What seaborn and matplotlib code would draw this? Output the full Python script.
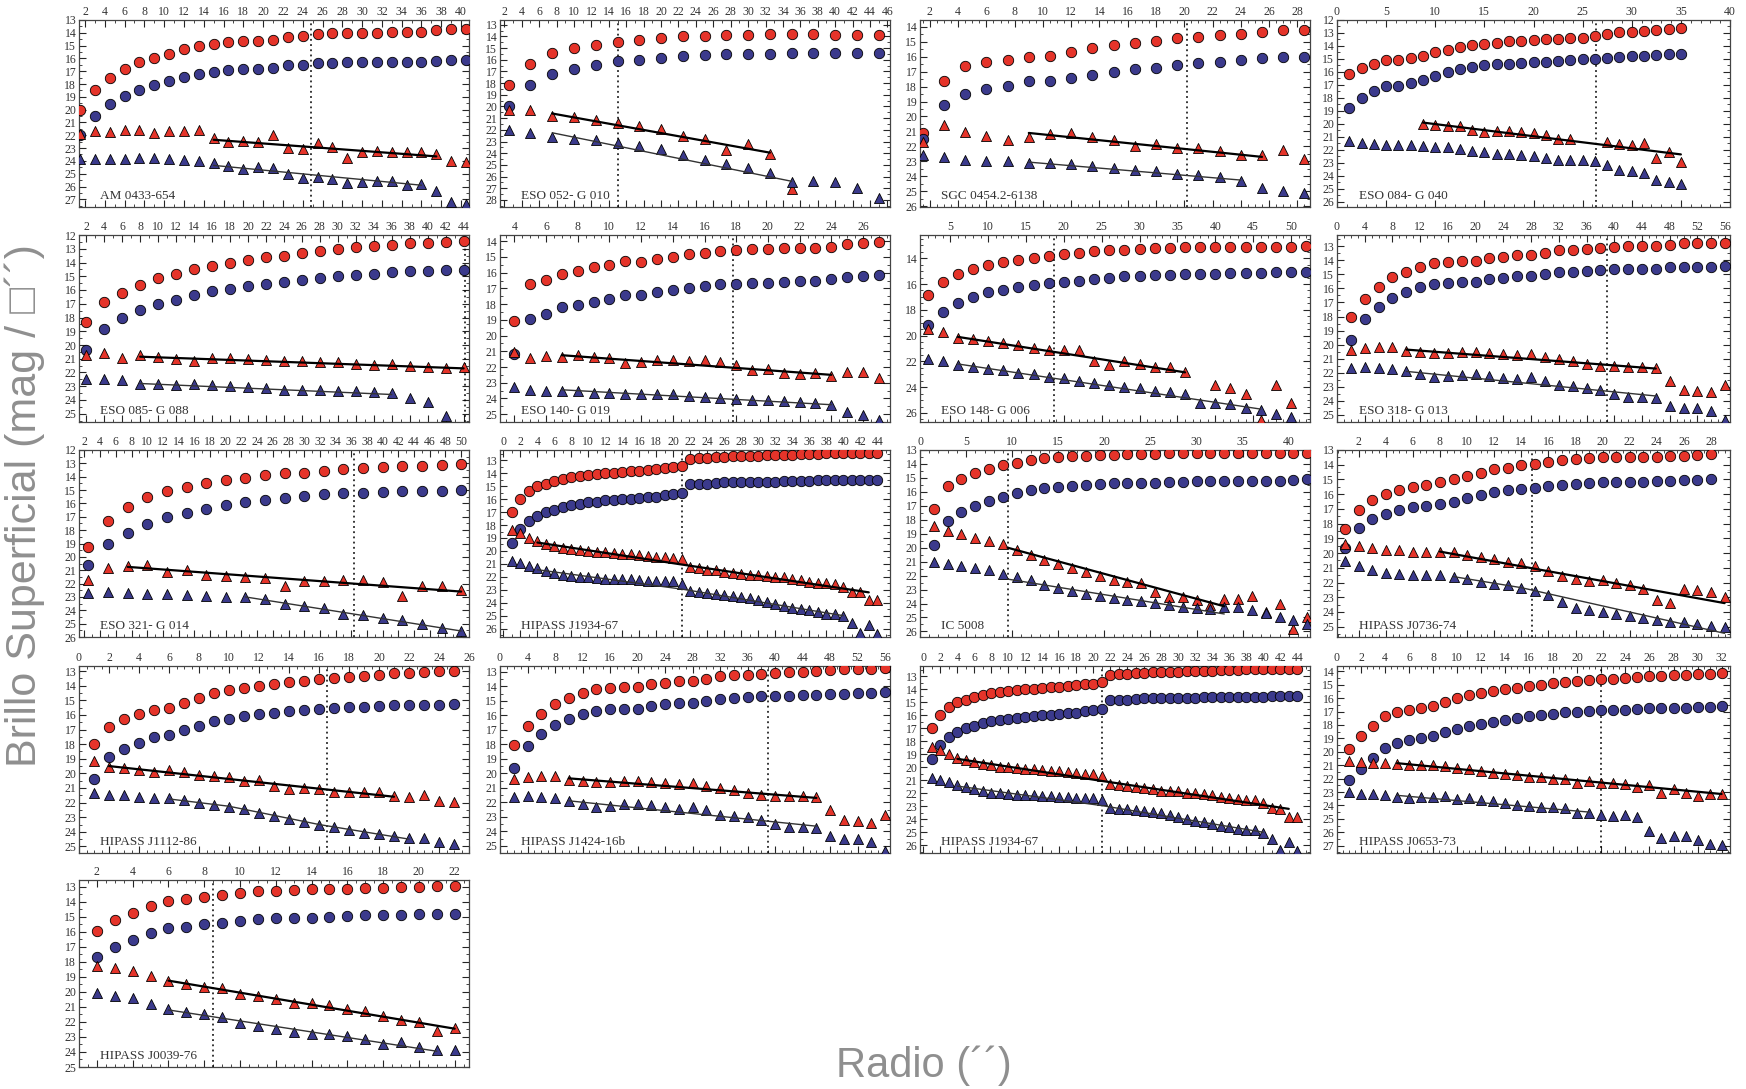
import numpy as np
import pandas as pd
import matplotlib
matplotlib.use("Agg")
import matplotlib.pyplot as plt
import seaborn as sns
from matplotlib.ticker import MultipleLocator

sns.set_style("ticks")
plt.rcParams['font.family'] = ['Liberation Serif', 'DejaVu Serif']

nan = np.nan

# ---------------- DATA ----------------
names = ["AM 0433-654", "ESO 052- G 010", "SGC 0454.2-6138", "ESO 084- G 040",
         "ESO 085- G 088", "ESO 140- G 019", "ESO 148- G 006", "ESO 318- G 013",
         "ESO 321- G 014", "HIPASS J1934-67", "IC 5008", "HIPASS J0736-74",
         "HIPASS J1112-86", "HIPASS J1424-16b", "HIPASS J1934-67", "HIPASS J0653-73",
         "HIPASS J0039-76"]

# AM 0433-654
p01_x = np.arange(1, 28) * 1.5
p01_rc = [20.0, 18.5, 17.55, 16.85, 16.3, 15.95, 15.65, 15.3, 15.05, 14.85, 14.75, 14.65, 14.65, 14.55,
          14.3, 14.25, 14.1, 14.05, 14.05, 14.0, 14.0, 13.95, 13.9, 13.9, 13.75, 13.7, 13.7]
p01_bc = [22.0, 20.5, 19.55, 18.95, 18.45, 18.05, 17.75, 17.45, 17.25, 17.05, 16.9, 16.8, 16.8, 16.75,
          16.55, 16.5, 16.35, 16.35, 16.3, 16.3, 16.3, 16.25, 16.25, 16.25, 16.2, 16.15, 16.1]
p01_rt = [21.9, 21.7, 21.75, 21.55, 21.6, 21.8, 21.7, 21.7, 21.6, 22.2, 22.55, 22.45, 22.5, 22.0,
          23.0, 23.1, 22.6, 22.95, 23.8, 23.3, 23.25, 23.3, 23.3, 23.3, 23.5, 24.0, 24.05]
p01_bt = [23.85, 23.85, 23.85, 23.85, 23.75, 23.75, 23.85, 23.95, 24.0, 24.2, 24.4, 24.6, 24.45, 24.55,
          25.0, 25.3, 25.25, 25.4, 25.75, 25.65, 25.6, 25.6, 25.9, 25.8, 26.35, 27.2, 27.35]
p01_rfx, p01_rfy = [15, 37.5], [22.35, 23.65]
p01_bfx, p01_bfy = [15, 36], [24.35, 25.9]

# ESO 052-G010
p02_x = np.arange(1, 19) * 2.5
p02_rc = [18.2, 16.4, 15.45, 15.0, 14.7, 14.5, 14.3, 14.15, 14.0, 13.95, 13.85, 13.85, 13.8, 13.8, 13.8, 13.85, 13.9, 13.9]
p02_bc = [20.0, 18.2, 17.2, 16.75, 16.45, 16.15, 16.0, 15.85, 15.7, 15.6, 15.55, 15.5, 15.5, 15.45, 15.45, 15.45, 15.4, 15.4]
p02_rt = [20.3, 20.3, 20.85, 20.9, 21.15, 21.45, 21.7, 21.95, 22.5, 22.8, 23.7, 23.2, 24.1, 27.1, nan, nan, nan, nan]
p02_bt = [22.05, 22.25, 22.6, 22.75, 22.9, 23.15, 23.4, 23.65, 24.15, 24.6, 24.95, 25.3, 25.65, 26.5, 26.4, 26.5, 26.95, 27.85]
p02_rfx, p02_rfy = [7.5, 32.5], [20.6, 23.95]
p02_bfx, p02_bfy = [7.5, 35], [22.25, 26.4]

# SGC 0454.2-6138
p03_x = np.arange(1, 20) * 1.5
p03_rc = [21.1, 17.6, 16.65, 16.35, 16.2, 16.0, 15.95, 15.7, 15.4, 15.25, 15.1, 14.95, 14.75, 14.7, 14.55, 14.5, 14.35, 14.25, 14.2]
p03_bc = [21.5, 19.25, 18.5, 18.15, 17.95, 17.65, 17.6, 17.45, 17.25, 17.05, 16.85, 16.75, 16.55, 16.45, 16.35, 16.25, 16.1, 16.05, 16.0]
p03_rt = [21.7, 20.55, 21.05, 21.3, 21.55, 21.35, 21.2, 21.1, 21.35, 21.6, 21.95, 21.85, 22.1, 22.1, 22.3, 22.55, 22.6, 22.25, 22.85]
p03_bt = [22.55, 22.7, 22.9, 23.0, 23.0, 23.1, 23.1, 23.15, 23.3, 23.45, 23.55, 23.65, 23.85, 23.9, 24.05, 24.3, 24.75, 24.95, 25.1]
p03_rfx, p03_rfy = [9, 25.5], [21.1, 22.7]
p03_bfx, p03_bfy = [9, 24], [23.05, 24.25]

# ESO 084-G040
p04_x = np.arange(1, 29) * 1.25
p04_rc = [16.15, 15.7, 15.35, 15.1, 15.1, 14.95, 14.75, 14.5, 14.3, 14.05, 13.95, 13.85, 13.75, 13.65,
          13.6, 13.55, 13.5, 13.45, 13.4, 13.35, 13.2, 13.05, 12.95, 12.9, 12.85, 12.75, 12.7, 12.65]
p04_bc = [18.8, 18.0, 17.5, 17.05, 17.05, 16.85, 16.6, 16.3, 16.0, 15.75, 15.6, 15.5, 15.4, 15.35,
          15.3, 15.25, 15.2, 15.15, 15.05, 15.0, 15.0, 14.95, 14.85, 14.8, 14.75, 14.7, 14.65, 14.6]
p04_rt = [nan, nan, nan, nan, nan, nan, 20.0, 20.05, 20.15, 20.2, 20.45, 20.6, 20.55, 20.55,
          20.65, 20.7, 20.85, 21.15, 21.2, nan, nan, 21.4, 21.55, 21.6, 21.5, 22.6, 22.2, 22.9]
p04_bt = [21.35, 21.5, 21.55, 21.6, 21.6, 21.6, 21.7, 21.75, 21.8, 21.95, 22.1, 22.2, 22.3, 22.35,
          22.4, 22.5, 22.65, 22.75, 22.8, 22.8, 22.85, 23.2, 23.55, 23.6, 23.8, 24.3, 24.5, 24.65]
p04_rfx, p04_rfy = [8.75, 35], [19.9, 22.35]
p04_bfx, p04_bfy = [], []

# ESO 085-G088
p05_x = np.arange(1, 23) * 2.0
p05_rc = [18.3, 16.85, 16.2, 15.65, 15.15, 14.8, 14.5, 14.25, 14.05, 13.8, 13.6, 13.5, 13.3, 13.15, 13.0, 12.9, 12.8, 12.7, 12.6, 12.55, 12.5, 12.45]
p05_bc = [20.4, 18.8, 18.05, 17.45, 17.05, 16.7, 16.4, 16.1, 15.9, 15.7, 15.55, 15.4, 15.25, 15.15, 15.0, 14.9, 14.8, 14.7, 14.65, 14.6, 14.55, 14.55]
p05_rt = [20.75, 20.6, 20.95, 20.75, 20.85, 21.0, 21.15, 20.95, 20.95, 21.05, 21.1, 21.15, 21.15, 21.25, 21.25, 21.4, 21.45, 21.4, 21.5, 21.6, 21.65, 21.6]
p05_bt = [22.5, 22.5, 22.55, 22.85, 22.85, 22.9, 22.85, 22.9, 22.95, 23.05, 23.15, 23.25, 23.3, 23.3, 23.35, 23.35, 23.45, 23.5, 23.85, 24.15, 25.2, nan]
p05_rfx, p05_rfy = [8, 44], [20.85, 21.7]
p05_bfx, p05_bfy = [8, 36], [22.8, 23.6]

# ESO 140-G019
p06_x = np.arange(4, 28) * 1.0
p06_rc = [19.05, 16.75, 16.45, 16.1, 15.9, 15.65, 15.5, 15.25, 15.3, 15.1, 15.0, 14.8, 14.75, 14.65, 14.55, 14.5, 14.5, 14.45, 14.4, 14.4, 14.35, 14.2, 14.1, 14.05]
p06_bc = [21.2, 18.95, 18.65, 18.2, 18.05, 17.85, 17.65, 17.4, 17.4, 17.2, 17.1, 16.95, 16.85, 16.75, 16.7, 16.65, 16.65, 16.6, 16.55, 16.5, 16.4, 16.25, 16.2, 16.15]
p06_rt = [21.05, 21.4, 21.3, 21.35, 21.25, 21.35, 21.45, 21.75, 21.7, 21.55, 21.55, 21.65, 21.55, 21.7, 21.9, 22.2, 22.1, 22.4, 22.45, 22.4, 22.6, 22.3, 22.3, 22.7]
p06_bt = [23.3, 23.45, 23.5, 23.5, 23.55, 23.65, 23.65, 23.7, 23.7, 23.7, 23.7, 23.85, 23.9, 24.0, 24.05, 24.1, 24.1, 24.15, 24.25, 24.3, 24.45, 24.85, 25.05, 25.35]
p06_rfx, p06_rfy = [7, 24], [21.25, 22.5]
p06_bfx, p06_bfy = [7, 24], [23.45, 24.4]

# ESO 148-G006
p07_x = np.arange(1, 27) * 2.0
p07_rc = [16.85, 15.85, 15.2, 14.8, 14.5, 14.3, 14.1, 13.95, 13.85, 13.7, 13.6, 13.45, 13.4, 13.35, 13.25, 13.2, 13.2, 13.15, 13.15, 13.1, 13.1, 13.1, 13.1, 13.1, 13.1, 13.05]
p07_bc = [19.2, 18.15, 17.45, 17.0, 16.65, 16.45, 16.25, 16.1, 15.95, 15.85, 15.75, 15.6, 15.5, 15.4, 15.35, 15.3, 15.3, 15.25, 15.2, 15.2, 15.15, 15.15, 15.15, 15.1, 15.1, 15.05]
p07_rt = [19.5, 19.7, 20.15, 20.3, 20.4, 20.6, 20.75, 20.95, 21.15, 21.1, 21.15, 21.95, 22.25, 21.95, 22.2, 22.45, 22.4, 22.85, nan, 23.85, 24.05, 24.55, 26.55, 23.85, 25.25, nan]
p07_bt = [21.8, 22.0, 22.25, 22.4, 22.6, 22.7, 22.9, 23.0, 23.2, 23.3, 23.5, 23.7, 23.8, 24.0, 24.1, 24.3, 24.35, 24.55, 25.2, 25.2, 25.3, 25.65, 25.8, 26.1, 26.3, nan]
p07_rfx, p07_rfy = [6, 18, 36], [20.1, 21.2, 22.85]
p07_bfx, p07_bfy = [6, 46], [22.2, 25.7]

# ESO 318-G013
p08_x = np.arange(1, 29) * 2.0
p08_rc = [18.05, 16.75, 15.9, 15.2, 14.8, 14.45, 14.2, 14.1, 14.05, 14.05, 13.85, 13.75, 13.65, 13.65,
          13.5, 13.3, 13.25, 13.2, 13.15, 13.05, 13.0, 13.0, 12.95, 12.9, 12.8, 12.8, 12.8, 12.75]
p08_bc = [19.65, 18.15, 17.3, 16.65, 16.25, 15.9, 15.7, 15.6, 15.55, 15.55, 15.35, 15.25, 15.15, 15.15,
          15.0, 14.85, 14.8, 14.75, 14.7, 14.65, 14.65, 14.6, 14.6, 14.5, 14.5, 14.45, 14.45, 14.4]
p08_rt = [20.4, 20.25, 20.2, 20.2, 20.45, 20.5, 20.6, 20.6, 20.55, 20.5, 20.6, 20.65, 20.75, 20.65,
          20.85, 21.05, 21.15, 21.35, 21.5, 21.55, 21.6, 21.6, 21.65, 22.55, 23.25, 23.3, 23.4, 22.85]
p08_bt = [21.65, 21.6, 21.65, 21.7, 21.9, 22.1, 22.3, 22.25, 22.15, 22.1, 22.2, 22.35, 22.45, 22.3,
          22.55, 22.9, 22.95, 23.05, 23.2, 23.5, 23.7, 23.7, 23.8, 24.35, 24.5, 24.5, 24.75, 25.35]
p08_rfx, p08_rfy = [10, 46], [20.35, 21.7]
p08_bfx, p08_bfy = [10, 46], [21.9, 23.65]

# ESO 321-G014
p09_x = np.arange(1, 21) * 2.5
p09_rc = [19.25, 17.3, 16.25, 15.55, 15.1, 14.75, 14.45, 14.25, 14.1, 13.85, 13.75, 13.7, 13.55, 13.45, 13.35, 13.25, 13.2, 13.2, 13.1, 13.05]
p09_bc = [20.6, 19.05, 18.2, 17.55, 17.05, 16.7, 16.45, 16.15, 15.9, 15.75, 15.6, 15.45, 15.3, 15.25, 15.2, 15.15, 15.1, 15.1, 15.05, 15.0]
p09_rt = [21.7, 20.85, 20.65, 20.6, 21.15, 20.95, 21.35, 21.4, 21.5, 21.55, 22.15, 21.8, 21.8, 21.7, 21.7, 21.9, 22.9, 22.2, 22.15, 22.5]
p09_bt = [22.7, 22.65, 22.7, 22.75, 22.8, 22.85, 22.95, 23.0, 23.0, 23.15, 23.5, 23.65, 23.85, 24.25, 24.35, 24.55, 24.75, 25.0, 25.3, 25.55]
p09_rfx, p09_rfy = [7.5, 50], [20.75, 22.6]
p09_bfx, p09_bfy = [22.5, 50], [23.0, 25.55]

# HIPASS J1934-67
p10_x = np.arange(1, 45) * 1.0
p10_rc = [17.0, 15.95, 15.35, 15.0, 14.8, 14.6, 14.45, 14.3, 14.2, 14.15, 14.05, 14.0, 13.95, 13.9, 13.85,
          13.8, 13.75, 13.7, 13.6, 13.55, 13.45, 12.9, 12.85, 12.8, 12.75, 12.75, 12.7, 12.7, 12.65, 12.65,
          12.6, 12.6, 12.55, 12.55, 12.5, 12.5, 12.5, 12.45, 12.45, 12.45, 12.45, 12.4, 12.4, 12.4]
p10_bc = [19.35, 18.3, 17.7, 17.3, 17.0, 16.8, 16.6, 16.45, 16.35, 16.25, 16.2, 16.1, 16.05, 16.0, 15.95,
          15.9, 15.85, 15.8, 15.7, 15.6, 15.5, 14.85, 14.8, 14.8, 14.75, 14.7, 14.7, 14.7, 14.7, 14.65,
          14.65, 14.65, 14.6, 14.6, 14.6, 14.6, 14.55, 14.55, 14.55, 14.55, 14.5, 14.5, 14.5, 14.5]
p10_rt = [18.4, 18.65, 19.0, 19.25, 19.45, 19.6, 19.75, 19.85, 19.95, 20.0, 20.05, 20.1, 20.15, 20.2, 20.25,
          20.3, 20.4, 20.45, 20.5, 20.55, 20.65, 21.25, 21.35, 21.45, 21.5, 21.6, 21.7, 21.8, 21.85, 21.85,
          21.95, 22.0, 22.05, 22.15, 22.25, 22.4, 22.45, 22.5, 22.55, 22.75, 23.15, 23.2, 23.8, 23.8]
p10_bt = [20.8, 20.95, 21.15, 21.35, 21.55, 21.7, 21.85, 21.95, 22.0, 22.05, 22.1, 22.15, 22.15, 22.2, 22.2,
          22.25, 22.3, 22.35, 22.35, 22.35, 22.55, 23.1, 23.2, 23.25, 23.3, 23.4, 23.45, 23.55, 23.65, 23.8,
          23.95, 24.1, 24.25, 24.4, 24.5, 24.6, 24.75, 24.85, 24.85, 25.05, 25.55, 26.35, 25.75, 26.45]
p10_rfx, p10_rfy = [4, 21, 43], [19.35, 21.05, 23.2]
p10_bfx, p10_bfy = [4, 21, 40], [21.45, 22.95, 25.0]

# IC 5008
p11_x = np.arange(1, 29) * 1.5
p11_rc = [17.2, 15.6, 15.05, 14.65, 14.35, 14.1, 13.9, 13.7, 13.55, 13.5, 13.45, 13.4, 13.35, 13.35,
          13.3, 13.3, 13.3, 13.25, 13.25, 13.25, 13.25, 13.25, 13.25, 13.25, 13.25, 13.25, 13.25, 13.25]
p11_bc = [19.8, 18.1, 17.45, 17.0, 16.65, 16.35, 16.1, 15.9, 15.75, 15.65, 15.55, 15.5, 15.45, 15.4,
          15.4, 15.35, 15.35, 15.3, 15.3, 15.25, 15.25, 15.25, 15.2, 15.2, 15.2, 15.2, 15.15, 15.1]
p11_rt = [18.45, 18.8, 19.05, 19.3, 19.5, 19.75, 20.15, 20.5, 20.85, 21.15, 21.45, 21.75, 22.0, 22.35,
          22.45, 22.55, 23.2, 23.5, 23.5, 23.75, 24.1, 23.7, 23.7, 23.45, 24.6, 24.0, 25.85, 24.95]
p11_bt = [21.0, 21.15, 21.3, 21.45, 21.6, 21.85, 22.1, 22.35, 22.65, 22.9, 23.1, 23.3, 23.45, 23.6,
          23.75, 23.85, 23.95, 24.1, 24.25, 24.35, 24.4, 24.25, 24.25, 24.5, 24.7, 25.0, 25.2, 25.45]
p11_rfx, p11_rfy = [9.5, 33], [20.0, 24.2]
p11_bfx, p11_bfy = [9.5, 33], [22.25, 24.75]

# HIPASS J0736-74
p12_x = np.arange(1, 30) * 1.0
p12_rc = [18.35, 17.1, 16.4, 16.0, 15.7, 15.5, 15.35, 15.2, 15.0, 14.75, 14.55, 14.3, 14.25, 14.05, 13.95,
          13.8, 13.7, 13.6, 13.55, 13.5, 13.5, 13.45, 13.45, 13.45, 13.4, 13.4, 13.35, 13.3, nan]
p12_bc = [19.65, 18.3, 17.7, 17.35, 17.1, 16.9, 16.8, 16.7, 16.5, 16.25, 16.05, 15.85, 15.75, 15.65, 15.55,
          15.45, 15.35, 15.3, 15.25, 15.2, 15.15, 15.15, 15.15, 15.1, 15.1, 15.05, 15.05, 15.0, nan]
p12_rt = [19.4, 19.55, 19.65, 19.8, 19.8, 19.9, 19.9, 19.9, 19.95, 20.1, 20.3, 20.4, 20.6, 20.7, 20.9,
          21.2, 21.55, 21.75, 21.9, 21.85, 22.05, 22.2, 22.45, 23.2, 23.4, 22.45, 22.5, 22.65, 22.95]
p12_bt = [20.55, 20.85, 21.15, 21.35, 21.4, 21.5, 21.5, 21.5, 21.6, 21.75, 21.95, 22.1, 22.2, 22.35, 22.6,
          22.85, 23.3, 23.75, 23.9, 24.0, 24.15, 24.25, 24.4, 24.55, 24.65, 24.7, 24.8, 24.95, 25.0]
p12_rfx, p12_rfy = [8, 29], [19.9, 23.4]
p12_bfx, p12_bfy = [9, 14, 29], [21.6, 22.35, 25.45]

# HIPASS J1112-86
p13_x = np.arange(1, 26) * 1.0
p13_rc = [18.0, 16.8, 16.25, 15.95, 15.65, 15.5, 15.15, 14.85, 14.5, 14.3, 14.15, 14.0, 13.85, 13.75, 13.65,
          13.55, 13.5, 13.4, 13.35, 13.25, 13.15, 13.1, 13.05, 13.0, 13.0]
p13_bc = [20.4, 18.9, 18.3, 17.9, 17.5, 17.4, 17.05, 16.75, 16.4, 16.25, 16.05, 15.95, 15.85, 15.75, 15.65,
          15.6, 15.55, 15.45, 15.45, 15.4, 15.35, 15.35, 15.3, 15.3, 15.25]
p13_rt = [19.15, 19.55, 19.65, 19.75, 19.9, 19.8, 19.9, 20.1, 20.2, 20.25, 20.5, 20.45, 20.85, 21.05, 21.0,
          21.1, 21.25, 21.3, 21.25, 21.25, 21.55, 21.6, 21.45, 21.9, 21.95]
p13_bt = [21.35, 21.45, 21.5, 21.6, 21.7, 21.7, 21.8, 22.0, 22.15, 22.3, 22.45, 22.7, 22.95, 23.15, 23.35,
          23.5, 23.7, 23.9, 24.05, 24.15, 24.3, 24.45, 24.4, 24.7, 24.85]
p13_rfx, p13_rfy = [2, 21], [19.5, 21.6]
p13_bfx, p13_bfy = [6, 10, 16, 22], [21.75, 22.25, 23.5, 24.5]

# HIPASS J0653-73
p16_x = np.arange(1, 33) * 1.0
p16_rc = [19.8, 18.8, 18.1, 17.3, 17.05, 16.85, 16.7, 16.55, 16.25, 16.0, 15.8, 15.6, 15.45, 15.35, 15.25, 15.1,
          15.0, 14.9, 14.8, 14.75, 14.65, 14.6, 14.55, 14.5, 14.45, 14.35, 14.35, 14.3, 14.25, 14.2, 14.2, 14.15]
p16_bc = [22.1, 21.25, 20.5, 19.75, 19.35, 19.15, 19.0, 18.85, 18.55, 18.3, 18.1, 17.9, 17.75, 17.6, 17.45, 17.35,
          17.25, 17.15, 17.05, 17.0, 16.95, 16.9, 16.85, 16.85, 16.8, 16.75, 16.75, 16.7, 16.7, 16.65, 16.65, 16.6]
p16_rt = [20.7, 20.75, 20.8, 20.85, 20.9, 21.0, 21.0, 21.0, 21.05, 21.2, 21.3, 21.45, 21.6, 21.65, 21.75, 21.85,
          21.9, 22.0, 22.05, 22.35, 22.2, 22.3, 22.3, 22.4, 22.65, 22.5, 23.05, 22.75, 23.05, 23.3, 23.15, 23.15]
p16_bt = [23.0, 23.15, 23.15, 23.25, 23.35, 23.45, 23.4, 23.4, 23.3, 23.5, 23.45, 23.6, 23.65, 23.8, 23.95, 24.05,
          24.1, 24.1, 24.2, 24.55, 24.55, 24.7, 24.8, 24.7, 24.85, 25.9, 26.45, 26.25, 26.3, 26.55, 26.85, 26.95]
p16_rfx, p16_rfy = [5, 32], [20.85, 23.15]
p16_bfx, p16_bfy = [5, 21], [23.25, 24.5]

# HIPASS J0039-76
p17_x = np.arange(2, 23) * 1.0
p17_rc = [15.95, 15.2, 14.75, 14.25, 13.95, 13.8, 13.65, 13.55, 13.4, 13.3, 13.25, 13.2, 13.15, 13.15, 13.15,
          13.1, 13.05, 13.0, 13.0, 12.95, 12.95]
p17_bc = [17.7, 17.0, 16.55, 16.05, 15.75, 15.65, 15.5, 15.4, 15.25, 15.15, 15.1, 15.05, 15.05, 15.0, 14.95,
          14.9, 14.9, 14.85, 14.8, 14.8, 14.8]
p17_rt = [18.25, 18.4, 18.6, 18.95, 19.3, 19.45, 19.65, 19.75, 20.15, 20.3, 20.5, 20.75, 20.75, 20.85, 21.15,
          21.3, 21.6, 21.85, 22.0, 22.6, 22.4]
p17_bt = [20.05, 20.25, 20.4, 20.8, 21.15, 21.35, 21.5, 21.65, 22.05, 22.25, 22.45, 22.65, 22.8, 22.8, 22.95,
          23.15, 23.45, 23.35, 23.65, 23.85, 23.9]
p17_rfx, p17_rfy = [6, 22], [19.25, 22.45]
p17_bfx, p17_bfy = [6, 21], [21.2, 23.95]

# vertical dotted line positions
vlines = [24.8, 15, 20.2, 26.4, 44.2, 17.8, 18.7, 39, 36.4, 21, 9.5, 14.8, 16.5, 39, 21, 22, 8.5]

# ---------------- LAYOUT / STYLE ----------------
W, H = 1746, 1089
cols = [(79, 469), (500, 890), (920, 1310), (1337, 1730)]
row_tops = [20, 235, 450, 666, 880]
ph = 187
RED = '#e5342a'
BLUE = '#3b3a8c'

series = [
    (p01_x, p01_rc, p01_bc, p01_rt, p01_bt, p01_rfx, p01_rfy, p01_bfx, p01_bfy),
    (p02_x, p02_rc, p02_bc, p02_rt, p02_bt, p02_rfx, p02_rfy, p02_bfx, p02_bfy),
    (p03_x, p03_rc, p03_bc, p03_rt, p03_bt, p03_rfx, p03_rfy, p03_bfx, p03_bfy),
    (p04_x, p04_rc, p04_bc, p04_rt, p04_bt, p04_rfx, p04_rfy, p04_bfx, p04_bfy),
    (p05_x, p05_rc, p05_bc, p05_rt, p05_bt, p05_rfx, p05_rfy, p05_bfx, p05_bfy),
    (p06_x, p06_rc, p06_bc, p06_rt, p06_bt, p06_rfx, p06_rfy, p06_bfx, p06_bfy),
    (p07_x, p07_rc, p07_bc, p07_rt, p07_bt, p07_rfx, p07_rfy, p07_bfx, p07_bfy),
    (p08_x, p08_rc, p08_bc, p08_rt, p08_bt, p08_rfx, p08_rfy, p08_bfx, p08_bfy),
    (p09_x, p09_rc, p09_bc, p09_rt, p09_bt, p09_rfx, p09_rfy, p09_bfx, p09_bfy),
    (p10_x, p10_rc, p10_bc, p10_rt, p10_bt, p10_rfx, p10_rfy, p10_bfx, p10_bfy),
    (p11_x, p11_rc, p11_bc, p11_rt, p11_bt, p11_rfx, p11_rfy, p11_bfx, p11_bfy),
    (p12_x, p12_rc, p12_bc, p12_rt, p12_bt, p12_rfx, p12_rfy, p12_bfx, p12_bfy),
    (p13_x, p13_rc, p13_bc, p13_rt, p13_bt, p13_rfx, p13_rfy, p13_bfx, p13_bfy),
    (p08_x, p08_rc, p08_bc, p08_rt, p08_bt, p08_rfx, p08_rfy, p08_bfx, p08_bfy),
    (p10_x, p10_rc, p10_bc, p10_rt, p10_bt, p10_rfx, p10_rfy, p10_bfx, p10_bfy),
    (p16_x, p16_rc, p16_bc, p16_rt, p16_bt, p16_rfx, p16_rfy, p16_bfx, p16_bfy),
    (p17_x, p17_rc, p17_bc, p17_rt, p17_bt, p17_rfx, p17_rfy, p17_bfx, p17_bfy),
]

# (xlim, xmajor ticks, xminor step, ylim, ymajor ticks, yminor step)
axcfg = [
    ((1.4, 40.8), np.arange(2, 41, 2), 1, (27.6, 13.0), np.arange(13, 28, 1), 0.5),
    ((1.5, 46.3), np.arange(2, 47, 2), 1, (28.6, 12.6), np.arange(13, 29, 1), 0.5),
    ((1.3, 28.9), np.arange(2, 29, 2), 0.5, (26.05, 13.55), np.arange(14, 27, 1), 0.5),
    ((0, 40), np.arange(0, 41, 5), 1, (26.4, 12.0), np.arange(12, 27, 1), 0.5),
    ((1.2, 44.6), np.arange(2, 45, 2), 1, (25.6, 12.0), np.arange(12, 26, 1), 0.5),
    ((3.1, 27.7), np.arange(4, 27, 2), 0.5, (25.5, 13.6), np.arange(14, 26, 1), 0.5),
    ((1.0, 52.5), np.arange(5, 51, 5), 1, (26.7, 12.2), np.arange(14, 27, 2), 0.5),
    ((0, 56.7), np.arange(0, 57, 4), 1, (25.5, 12.2), np.arange(13, 26, 1), 0.5),
    ((1.3, 51.0), np.arange(2, 51, 2), 1, (26.0, 12.0), np.arange(12, 27, 1), 0.5),
    ((-0.4, 45.5), np.arange(0, 45, 2), 1, (26.65, 12.2), np.arange(13, 27, 1), 0.5),
    ((0, 42.3), np.arange(0, 41, 5), 1, (26.4, 13.0), np.arange(13, 27, 1), 0.5),
    ((0.4, 29.4), np.arange(2, 29, 2), 0.5, (25.7, 13.0), np.arange(13, 26, 1), 0.5),
    ((0, 26), np.arange(0, 27, 2), 0.5, (25.45, 12.65), np.arange(13, 26, 1), 0.5),
    ((0, 56.7), np.arange(0, 57, 4), 1, (25.5, 12.6), np.arange(13, 26, 1), 0.5),
    ((-0.4, 45.5), np.arange(0, 45, 2), 1, (26.6, 12.2), np.arange(13, 27, 1), 0.5),
    ((0, 32.7), np.arange(0, 33, 2), 0.5, (27.55, 13.6), np.arange(14, 28, 1), 0.5),
    ((1.0, 22.8), np.arange(2, 23, 2), 0.5, (25.0, 12.55), np.arange(13, 26, 1), 0.5),
]

fig = plt.figure(figsize=(17.46, 10.89), dpi=100)
fig.patch.set_facecolor('white')

for i in range(17):
    r, c = divmod(i, 4)
    l, rr = cols[c]
    t = row_tops[r]
    ax = fig.add_axes([l / W, 1 - (t + ph) / H, (rr - l) / W, ph / H])
    x, rc, bc, rt, bt, rfx, rfy, bfx, bfy = series[i]
    df = pd.DataFrame({'r': x, 'rc': rc, 'bc': bc, 'rt': rt, 'bt': bt})
    kw = dict(ax=ax, legend=False, edgecolor='black', linewidth=0.6, zorder=3)
    sns.scatterplot(data=df, x='r', y='rc', marker='o', s=56, color=RED, **kw)
    sns.scatterplot(data=df, x='r', y='bc', marker='o', s=56, color=BLUE, **kw)
    sns.scatterplot(data=df, x='r', y='rt', marker='^', s=52, color=RED, **kw)
    sns.scatterplot(data=df, x='r', y='bt', marker='^', s=52, color=BLUE, **kw)
    if len(rfx):
        sns.lineplot(x=rfx, y=rfy, ax=ax, color='black', lw=1.6, estimator=None, sort=False, legend=False, zorder=4)
    if len(bfx):
        sns.lineplot(x=bfx, y=bfy, ax=ax, color='#333333', lw=1.0, estimator=None, sort=False, legend=False, zorder=4)
    ax.axvline(vlines[i], color='black', lw=1.1, ls=(0, (1.2, 2.2)), zorder=2)

    xl, xt, xm, yl, yt, ym = axcfg[i]
    ax.set_xlim(*xl)
    ax.set_ylim(*yl)
    ax.set_xticks(xt)
    ax.set_yticks(yt)
    ax.xaxis.set_minor_locator(MultipleLocator(xm))
    ax.yaxis.set_minor_locator(MultipleLocator(ym))
    ax.set_xlabel('')
    ax.set_ylabel('')
    ax.tick_params(axis='x', which='both', direction='in', top=True, bottom=True,
                   labeltop=True, labelbottom=False, pad=1.5, labelsize=8.5, labelcolor='#333333')
    ax.tick_params(axis='y', which='both', direction='in', left=True, right=True,
                   labelleft=True, labelright=False, pad=2, labelsize=8.5, labelcolor='#333333')
    ax.tick_params(which='major', length=5, width=0.8)
    ax.tick_params(which='minor', length=2.5, width=0.6)
    for sp in ax.spines.values():
        sp.set_linewidth(0.9)
        sp.set_color('#444444')
    ax.text(0.055, 0.025, names[i], transform=ax.transAxes, ha='left', va='bottom',
            fontsize=9.5, color='#333333', zorder=5)

fig.text(25 / W, 1 - 506 / H, "Brillo Superficial (mag / \u25a1\u00b4\u00b4)", rotation=90,
         ha='center', va='center', fontsize=31, color='#8f8f8f',
         family=['Liberation Sans', 'DejaVu Sans'])
fig.text(924 / W, 1 - 1066 / H, "Radio (\u00b4\u00b4)", ha='center', va='center',
         fontsize=30, color='#8f8f8f', family=['Liberation Sans', 'DejaVu Sans'])

fig.savefig("out.png", dpi=100, facecolor='white')
